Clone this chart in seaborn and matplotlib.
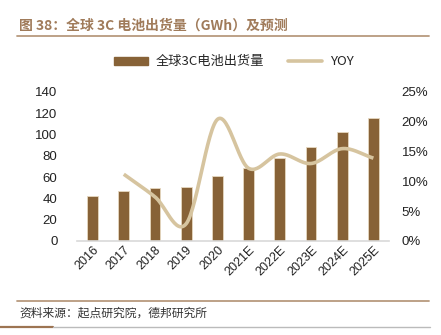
import numpy as np
import pandas as pd
import matplotlib
matplotlib.use("Agg")
import matplotlib.pyplot as plt
import seaborn as sns
from matplotlib.patches import Patch
from matplotlib.lines import Line2D

years = ["2016", "2017", "2018", "2019", "2020", "2021E", "2022E", "2023E", "2024E", "2025E"]
shipments = [42, 47, 50, 51, 61, 69, 78, 88, 102, 115.5]
yoy = [None, 11.2, 7.4, 2.9, 20.4, 12.2, 14.6, 13.0, 15.5, 13.9]
left_ticks = [0, 20, 40, 60, 80, 100, 120, 140]
right_ticks = [0, 5, 10, 15, 20, 25]

bar_color = "#876237"
line_color = "#D6C49F"
brown_text = "#A07B5A"
rule_color = "#B79A7E"

sns.set_theme(style="white")
plt.rcParams['font.family'] = ['Liberation Sans Narrow', 'Liberation Sans', 'Noto Sans CJK SC', 'DejaVu Sans']

fig = plt.figure(figsize=(4.41, 3.35), dpi=100)
ax = fig.add_axes([0.1746, 0.2806, 0.7075, 0.4448])

df = pd.DataFrame({"year": years, "val": shipments})
sns.barplot(data=df, x="year", y="val", ax=ax, color=bar_color, width=0.34,
            saturation=1, edgecolor="#E6D8C0", linewidth=0.6)
ax.set_xlim(-0.5, len(years) - 0.5)
ax.set_ylim(0, 140)
ax.set_yticks(left_ticks)
ax.set_yticklabels([str(t) for t in left_ticks], fontsize=9.5, color="#222222")
ax.set_xlabel("")
ax.set_ylabel("")
ax.tick_params(axis="x", labelsize=9, colors="#222222", length=0, pad=2)
ax.tick_params(axis="y", length=0, pad=14)
for lbl in ax.get_xticklabels():
    lbl.set_rotation(45)
    lbl.set_ha("right")
    lbl.set_rotation_mode("anchor")
for s in ["top", "right", "left"]:
    ax.spines[s].set_visible(False)
ax.spines["bottom"].set_color("#D9D9D9")
ax.spines["bottom"].set_linewidth(1.2)

ax2 = ax.twinx()
ax2.set_ylim(0, 25)
ax2.set_yticks(right_ticks)
ax2.set_yticklabels([f"{t}%" for t in right_ticks], fontsize=9.5, color="#222222")
ax2.tick_params(axis="y", length=0, pad=9)
for s in ["top", "right", "left", "bottom"]:
    ax2.spines[s].set_visible(False)

# smoothed (Catmull-Rom) rendering of the YOY points
xs = np.arange(1, len(years), dtype=float)
ys = np.array(yoy[1:], dtype=float)
px = np.concatenate([[2 * xs[0] - xs[1]], xs, [2 * xs[-1] - xs[-2]]])
py = np.concatenate([[2 * ys[0] - ys[1]], ys, [2 * ys[-1] - ys[-2]]])
cx, cy = [], []
t = np.linspace(0, 1, 30)
for i in range(1, len(px) - 2):
    p0, p1, p2, p3 = (np.array([px[j], py[j]]) for j in range(i - 1, i + 3))
    for tt in t:
        pt = 0.5 * ((2 * p1) + (-p0 + p2) * tt + (2 * p0 - 5 * p1 + 4 * p2 - p3) * tt ** 2
                    + (-p0 + 3 * p1 - 3 * p2 + p3) * tt ** 3)
        cx.append(pt[0]); cy.append(pt[1])
ax2.plot(cx, cy, color=line_color, linewidth=2.6, solid_capstyle="butt")

# legend
handles = [Patch(facecolor=bar_color, edgecolor=bar_color),
           Line2D([0], [0], color=line_color, linewidth=2.6)]
fig.legend(handles, ["全球3C电池出货量", "YOY"], loc="center", bbox_to_anchor=(0.53, 0.815),
           ncol=2, frameon=False, fontsize=9.5, handlelength=2.6, handleheight=0.5,
           columnspacing=1.8, handletextpad=0.6,
           prop={'family': ['Noto Sans CJK SC', 'DejaVu Sans'], 'size': 9.5})

# title and rules
fig.text(0.043, 0.925, "图 38：全球 3C 电池出货量（GWh）及预测", fontsize=10, fontweight="bold",
         color=brown_text, family=['Noto Sans CJK SC', 'DejaVu Sans'], va="center", ha="left")
fig.add_artist(Line2D([0.039, 0.972], [0.893, 0.893], color=rule_color, linewidth=1.3))
fig.add_artist(Line2D([0.039, 0.972], [0.101, 0.101], color=rule_color, linewidth=1.3))
fig.text(0.043, 0.066, "资料来源：起点研究院，德邦研究所", fontsize=8.5, color="#333333",
         family=['Noto Sans CJK SC', 'DejaVu Sans'], va="center", ha="left")
fig.add_artist(Line2D([0.0, 0.12], [0.025, 0.025], color="#9C7452", linewidth=1.6))
fig.add_artist(Line2D([0.12, 0.975], [0.025, 0.025], color="#BBBBBB", linewidth=1.0))

fig.savefig("out.png", dpi=100)
